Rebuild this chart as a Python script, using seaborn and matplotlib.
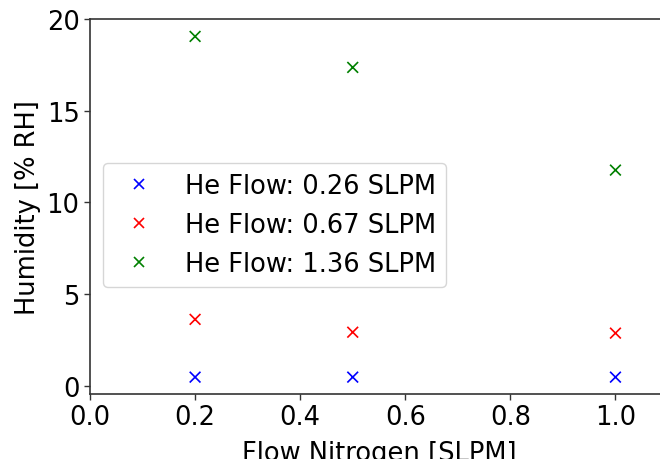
import matplotlib
matplotlib.use("Agg")
import matplotlib.pyplot as plt
import seaborn as sns
import pandas as pd

# Nitrogen flow settings [SLPM]
flow_n2 = [0.2, 0.5, 1.0]

# Measured humidity [% RH] for each helium flow
hum_he_026 = [0.47, 0.47, 0.47]
hum_he_067 = [3.62, 2.92, 2.87]
hum_he_136 = [19.05, 17.36, 11.76]

series_labels = ["He Flow: 0.26 SLPM", "He Flow: 0.67 SLPM", "He Flow: 1.36 SLPM"]
series_colors = ["blue", "red", "green"]

rows = []
for label, vals in zip(series_labels, [hum_he_026, hum_he_067, hum_he_136]):
    for x, y in zip(flow_n2, vals):
        rows.append({"flow": x, "humidity": y, "series": label})
df = pd.DataFrame(rows)

sns.set_style("ticks")
plt.rcParams["font.family"] = ["DejaVu Sans"]
plt.rcParams["text.color"] = "black"
plt.rcParams["axes.labelcolor"] = "black"
plt.rcParams["xtick.color"] = "black"
plt.rcParams["ytick.color"] = "black"

fig = plt.figure(figsize=(6.6, 4.6), dpi=100)
ax = fig.add_axes([90 / 660, 65 / 460, 578 / 660, 375 / 460])

sns.scatterplot(data=df, x="flow", y="humidity", hue="series",
                palette=dict(zip(series_labels, series_colors)),
                marker="x", s=60, linewidth=1.2, ax=ax)

fs = 18.5
ax.set_xlim(0, 1.1)
ax.set_ylim(-0.45, 20)
ax.set_xticks([0.0, 0.2, 0.4, 0.6, 0.8, 1.0])
ax.set_yticks([0, 5, 10, 15, 20])
ax.tick_params(labelsize=fs, length=4, width=1.0, color="#333333")
ax.set_xlabel("Flow Nitrogen [SLPM]", fontsize=fs, labelpad=7)
ax.set_ylabel("Humidity [% RH]", fontsize=fs)
for sp in ax.spines.values():
    sp.set_color("#333333")
    sp.set_linewidth(1.2)

ax.legend(loc="center left", bbox_to_anchor=(0.0, 0.45), fontsize=fs,
          frameon=True, borderaxespad=0.5)

fig.savefig("out.png", dpi=100)
